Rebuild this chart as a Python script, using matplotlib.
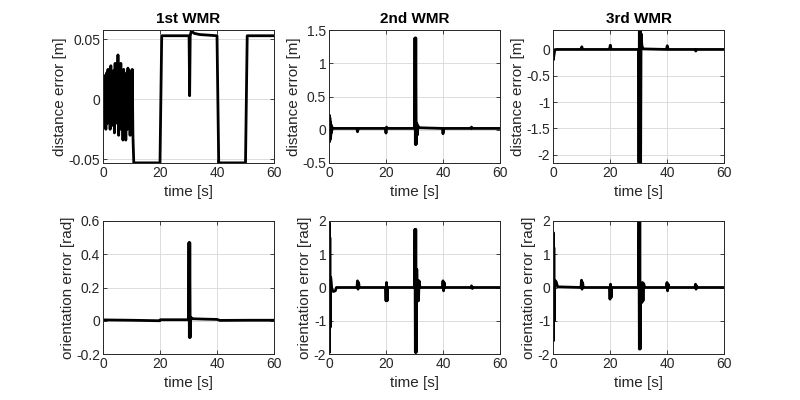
import matplotlib
matplotlib.use("Agg")
import matplotlib.pyplot as plt

plt.rcParams['font.family'] = ['Liberation Sans', 'DejaVu Sans']
plt.rcParams['axes.unicode_minus'] = False

titles = ["1st WMR", "2nd WMR", "3rd WMR"]
xticks = [0, 20, 40, 60]

# 1st WMR distance error [m]
t_d1 = [0, 0.25, 0.5, 0.75, 1.0, 1.25, 1.5, 1.75, 2.0, 2.25, 2.5, 2.75, 3.0, 3.25,
        3.5, 3.75, 4.0, 4.25, 4.5, 4.75, 5.0, 5.25, 5.5, 5.75, 6.0, 6.25, 6.5, 6.75,
        7.0, 7.25, 7.5, 7.75, 8.0, 8.25, 8.5, 8.75, 9.0, 9.25, 9.5, 9.75, 10.0, 10.25,
        10.5, 10.8, 20.0, 20.3, 20.6, 30.2, 30.4, 30.6, 31.0, 32.0, 34.0, 40.0, 40.3,
        40.6, 50.0, 50.3, 50.6, 60.0]
e_d1 = [0.000, 0.020, -0.015, 0.018, -0.025, 0.022, -0.020, 0.025, -0.018, 0.015,
        -0.025, 0.028, -0.022, 0.020, -0.015, 0.024, -0.028, 0.030, -0.020, 0.026,
        -0.018, 0.037, -0.030, 0.022, -0.025, 0.030, -0.018, 0.020, -0.034, 0.025,
        -0.020, 0.018, -0.034, 0.022, -0.025, 0.026, -0.018, 0.024, -0.030, 0.020,
        -0.015, 0.025, -0.030, -0.053, -0.053, 0.000, 0.053, 0.053, 0.003, 0.053,
        0.057, 0.055, 0.054, 0.053, 0.000, -0.053, -0.053, 0.000, 0.053, 0.053]

# 2nd WMR distance error [m]
t_d2 = [0, 0.1, 0.2, 0.3, 0.4, 0.5, 0.6, 0.7, 0.8, 1.0, 1.5, 9.8, 10.0, 10.3, 19.8,
        20.0, 20.2, 20.4, 30.0, 30.15, 30.3, 30.45, 30.6, 30.8, 31.0, 31.2, 31.5, 39.8,
        40.0, 40.3, 49.8, 50.0, 50.3, 60.0]
e_d2 = [0.00, 0.22, -0.18, 0.18, -0.15, 0.12, -0.10, 0.08, -0.05, 0.04, 0.02, 0.02,
        -0.03, 0.02, 0.02, -0.05, 0.04, 0.02, 0.02, 1.38, -0.22, 1.38, -0.22, 0.10,
        -0.08, 0.06, 0.03, 0.02, -0.06, 0.02, 0.02, 0.04, 0.02, 0.02]

# 3rd WMR distance error [m]
t_d3 = [0, 0.1, 0.3, 0.6, 1.0, 9.8, 10.1, 10.4, 19.8, 20.1, 20.4, 30.0, 30.15, 30.3,
        30.45, 30.6, 30.75, 30.9, 31.2, 31.6, 39.8, 40.1, 40.4, 49.8, 50.1, 50.4, 60.0]
e_d3 = [0.00, -0.20, -0.12, -0.02, 0.00, 0.00, 0.05, 0.00, 0.00, 0.08, 0.00, 0.00,
        -2.15, 0.37, -2.15, 0.37, -2.15, 0.30, 0.07, 0.01, 0.00, 0.07, 0.00, 0.00,
        -0.03, 0.00, 0.00]

# 1st WMR orientation error [rad]
t_o1 = [0, 10, 19.9, 20.1, 30.0, 30.15, 30.3, 30.45, 30.6, 30.8, 31.5, 35, 40, 41, 50, 60]
e_o1 = [0.005, 0.003, 0.000, 0.006, 0.006, 0.47, -0.10, 0.47, -0.10, 0.02, 0.012,
        0.010, 0.008, 0.002, 0.003, 0.003]

# 2nd WMR orientation error [rad]
t_o2 = [0, 0.1, 0.2, 0.3, 0.4, 0.6, 1.0, 1.5, 2.2, 2.6, 9.8, 10.0, 10.2, 10.4, 10.6,
        19.8, 20.0, 20.2, 20.4, 20.6, 30.0, 30.15, 30.3, 30.45, 30.6, 30.8, 31.0, 31.2,
        31.4, 31.6, 31.9, 39.8, 40.0, 40.2, 40.4, 40.6, 49.8, 50.0, 50.3, 50.5, 60.0]
e_o2 = [0.00, 1.95, -1.95, 1.50, -1.20, 0.30, -0.05, -0.12, -0.10, 0.00, 0.00, 0.20,
        -0.05, 0.15, 0.00, 0.00, -0.40, 0.15, -0.40, 0.00, 0.00, 1.75, -1.95, 1.75,
        -1.95, 0.55, -0.35, 0.20, -0.40, 0.20, 0.00, 0.00, 0.20, -0.10, 0.15, 0.00,
        0.00, 0.05, -0.03, 0.00, 0.00]

# 3rd WMR orientation error [rad]
t_o3 = [0, 0.1, 0.2, 0.3, 0.4, 0.6, 0.9, 1.2, 1.6, 9.8, 10.0, 10.2, 10.4, 10.6, 19.8,
        20.0, 20.2, 20.4, 20.6, 30.0, 30.15, 30.3, 30.45, 30.6, 30.8, 31.2, 31.4, 31.6,
        31.8, 32.2, 39.8, 40.0, 40.2, 40.4, 40.6, 49.8, 50.0, 50.2, 50.4, 50.6, 60.0]
e_o3 = [0.00, 1.65, -1.60, 1.20, -1.00, 0.10, 0.20, 0.15, 0.02, 0.00, 0.22, -0.05,
        0.15, 0.00, 0.00, -0.35, 0.10, -0.30, 0.00, 0.00, 2.00, -1.85, 2.00, -1.85,
        0.10, -0.45, 0.15, -0.40, 0.12, 0.00, 0.00, 0.15, -0.10, 0.10, 0.00, 0.00,
        0.10, -0.05, 0.05, 0.00, 0.00]

series = [
    [(t_d1, e_d1), (t_d2, e_d2), (t_d3, e_d3)],
    [(t_o1, e_o1), (t_o2, e_o2), (t_o3, e_o3)],
]
ylabels = ["distance error [m]", "orientation error [rad]"]
ylims = [
    [(-0.0531, 0.0578), (-0.5, 1.5), (-2.16, 0.37)],
    [(-0.2, 0.6), (-2, 2), (-2, 2)],
]
yticks = [
    [[-0.05, 0, 0.05], [-0.5, 0, 0.5, 1, 1.5], [-2, -1.5, -1, -0.5, 0]],
    [[-0.2, 0, 0.2, 0.4, 0.6], [-2, -1, 0, 1, 2], [-2, -1, 0, 1, 2]],
]
ytlabels = [
    [["-0.05", "0", "0.05"], ["-0.5", "0", "0.5", "1", "1.5"], ["-2", "-1.5", "-1", "-0.5", "0"]],
    [["-0.2", "0", "0.2", "0.4", "0.6"], ["-2", "-1", "0", "1", "2"], ["-2", "-1", "0", "1", "2"]],
]

fig = plt.figure(figsize=(8, 4), dpi=100)
lefts = [103, 329, 553]
tops = [30, 221]
w, h = 171, 133

for r in range(2):
    for c in range(3):
        ax = fig.add_axes([lefts[c] / 800, 1 - (tops[r] + h) / 400, w / 800, h / 400])
        t, e = series[r][c]
        ax.plot(t, e, color="black", lw=2.0)
        ax.set_xlim(0, 60)
        ax.set_ylim(*ylims[r][c])
        ax.set_xticks(xticks)
        ax.set_xticklabels([str(v) for v in xticks])
        ax.set_yticks(yticks[r][c])
        ax.set_yticklabels(ytlabels[r][c])
        ax.grid(True, color="#dcdcdc", lw=0.7)
        ax.set_axisbelow(True)
        ax.tick_params(direction="in", length=3, width=0.6, labelsize=10,
                       colors="#262626", top=True, right=True, pad=2)
        for s in ax.spines.values():
            s.set_color("#262626")
            s.set_linewidth(0.7)
        ax.set_xlabel("time [s]", fontsize=11, color="#262626", labelpad=4)
        ax.set_ylabel(ylabels[r], fontsize=11, color="#262626", labelpad=1)
        if r == 0:
            ax.set_title(titles[c], fontsize=11, fontweight="bold", pad=5)

fig.savefig("out.png", dpi=100)
